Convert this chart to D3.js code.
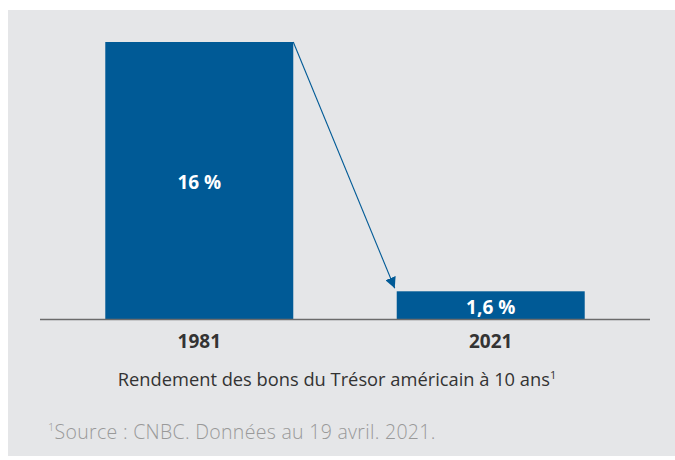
<!DOCTYPE html>
<html>
<head>
<meta charset="utf-8">
<script src="https://cdn.jsdelivr.net/npm/d3@7"></script>
<style>
  html, body { margin: 0; padding: 0; background: #fff; }
  svg { display: block; }
</style>
</head>
<body>
<div id="chart"></div>
<script>
// Data
const years = ['1981', '2021'];
const yields = [16, 1.6];
const valueLabels = ['16\u00a0%', '1,6\u00a0%'];
const axisTitle = 'Rendement des bons du Trésor américain à 10 ans';
const sourceNote = 'Source : CNBC. Données au 19 avril. 2021.';

const width = 675;
const height = 460;
const BAR_COLOR = '#005a96';
const PANEL_COLOR = '#e5e6e8';
const FONT = '"Open Sans", "Noto Sans", sans-serif';

const svg = d3.select('#chart').append('svg')
  .attr('width', width)
  .attr('height', height);

// grey background panel
svg.append('rect')
  .attr('x', 8).attr('y', 10)
  .attr('width', width - 8).attr('height', 446)
  .attr('fill', PANEL_COLOR);

const baseline = 319;
const x = d3.scaleBand()
  .domain(years)
  .range([40, 650])
  .paddingInner(0.355)
  .paddingOuter(0.224);

const y = d3.scaleLinear()
  .domain([0, 16])
  .range([baseline, 42]);

const data = years.map((yr, i) => ({ year: yr, value: yields[i], label: valueLabels[i] }));

svg.selectAll('rect.bar')
  .data(data)
  .enter().append('rect')
  .attr('class', 'bar')
  .attr('x', d => x(d.year))
  .attr('y', d => y(d.value))
  .attr('width', x.bandwidth())
  .attr('height', d => y(0) - y(d.value))
  .attr('fill', BAR_COLOR);

// value labels: the tall bar gets its label in the middle, the short one near the bottom
svg.selectAll('text.value')
  .data(data)
  .enter().append('text')
  .attr('class', 'value')
  .attr('x', d => x(d.year) + x.bandwidth() / 2)
  .attr('y', d => (d.value > 5 ? (y(d.value) + y(0)) / 2 + 8 : y(0) - 5))
  .attr('text-anchor', 'middle')
  .attr('font-family', FONT)
  .attr('font-weight', 700)
  .attr('font-size', 19)
  .attr('fill', '#fff')
  .text(d => d.label);

// x axis
const xAxis = svg.append('g')
  .attr('transform', `translate(0,${baseline})`)
  .call(d3.axisBottom(x).tickSize(0).tickPadding(0));
xAxis.select('.domain')
  .attr('d', 'M40,0.5H650')
  .attr('stroke', '#6b6b6b')
  .attr('stroke-width', 1.5);
xAxis.selectAll('.tick text')
  .attr('y', 29)
  .attr('dy', 0)
  .attr('font-family', FONT)
  .attr('font-weight', 700)
  .attr('font-size', 19)
  .attr('fill', '#333');

// arrow from top of first bar to top of second
const defs = svg.append('defs');
defs.append('marker')
  .attr('id', 'arrowhead')
  .attr('viewBox', '0 0 10 10')
  .attr('refX', 10).attr('refY', 5)
  .attr('markerWidth', 11).attr('markerHeight', 11)
  .attr('markerUnits', 'userSpaceOnUse')
  .attr('orient', 'auto')
  .append('path')
  .attr('d', 'M0,0L10,5L0,10Z')
  .attr('fill', BAR_COLOR);

svg.append('line')
  .attr('x1', x(years[0]) + x.bandwidth())
  .attr('y1', y(yields[0]))
  .attr('x2', x(years[1]) - 2)
  .attr('y2', y(yields[1]) - 3)
  .attr('stroke', BAR_COLOR)
  .attr('stroke-width', 1.1)
  .attr('marker-end', 'url(#arrowhead)');

// axis title with footnote mark
const title = svg.append('text')
  .attr('x', 337)
  .attr('y', 386)
  .attr('text-anchor', 'middle')
  .attr('font-family', FONT)
  .attr('font-size', 18.3)
  .attr('fill', '#333')
  .text(axisTitle);
title.append('tspan')
  .attr('font-size', 11)
  .attr('dy', -7)
  .text('1');

// source note
const note = svg.append('text')
  .attr('x', 48)
  .attr('y', 439)
  .attr('font-family', FONT)
  .attr('font-weight', 300)
  .attr('font-size', 19.5)
  .attr('letter-spacing', 0.3)
  .attr('fill', '#999');
note.append('tspan')
  .attr('font-size', 11)
  .attr('dy', -8)
  .text('1');
note.append('tspan')
  .attr('dy', 8)
  .text(sourceNote);
</script>
</body>
</html>
